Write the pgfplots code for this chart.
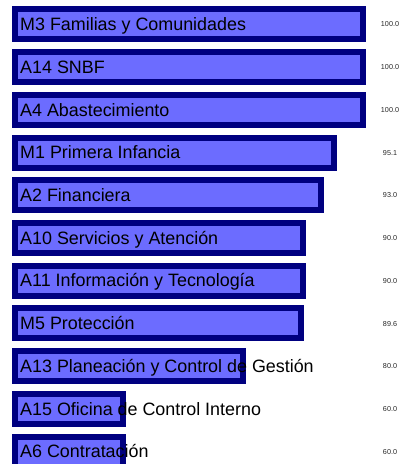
\documentclass[border=0pt]{standalone}
\usepackage{pgfplots}
\pgfplotsset{compat=1.18}
\usepackage{pgfplotstable}
\usepackage{fontspec}
\setmainfont{Liberation Sans}
\definecolor{barfill}{RGB}{108,108,255}
\definecolor{barline}{RGB}{0,0,128}
\pgfplotstableread[col sep=comma]{
y,val,name
0,100.0,M3 Familias y Comunidades
1,100.0,A14 SNBF
2,100.0,A4 Abastecimiento
3,95.1,M1 Primera Infancia
4,93.0,A2 Financiera
5,90.0,A10 Servicios y Atención
6,90.0,A11 Información y Tecnología
7,89.6,M5 Protección
8,80.0,A13 Planeación y Control de Gestión
9,60.0,A15 Oficina de Control Interno
10,60.0,A6 Contratación
}\data
\begin{document}
\begin{tikzpicture}
\path[use as bounding box] (0,0) rectangle (407bp,464bp);
\begin{axis}[at={(15bp,-9bp)}, anchor=south west, scale only axis,
  width=348bp, height=470bp, xmin=0, xmax=58, ymin=-0.5, ymax=10.5,
  y dir=reverse, hide axis, clip=false]
\addplot[xbar, bar width=30bp, draw=barline, line width=6bp, fill=barfill]
  table[x expr=\thisrow{val}-42, y=y] {\data};
\addplot[only marks, mark=none, nodes near coords, point meta=explicit symbolic,
  every node near coord/.append style={anchor=base west, inner sep=0pt, xshift=5bp, yshift=-6.2bp,
  font=\fontsize{17.9bp}{20bp}\selectfont, text=black}]
  table[x expr=0, y=y, meta=name] {\data};
\addplot[only marks, mark=none, nodes near coords, point meta=explicit symbolic,
  every node near coord/.append style={anchor=base, inner sep=0pt, yshift=-2.6bp,
  font=\fontsize{7.2bp}{8bp}\selectfont, text=black!85}]
  table[x expr=62.5, y=y, meta=val] {\data};
\end{axis}
\end{tikzpicture}
\end{document}
